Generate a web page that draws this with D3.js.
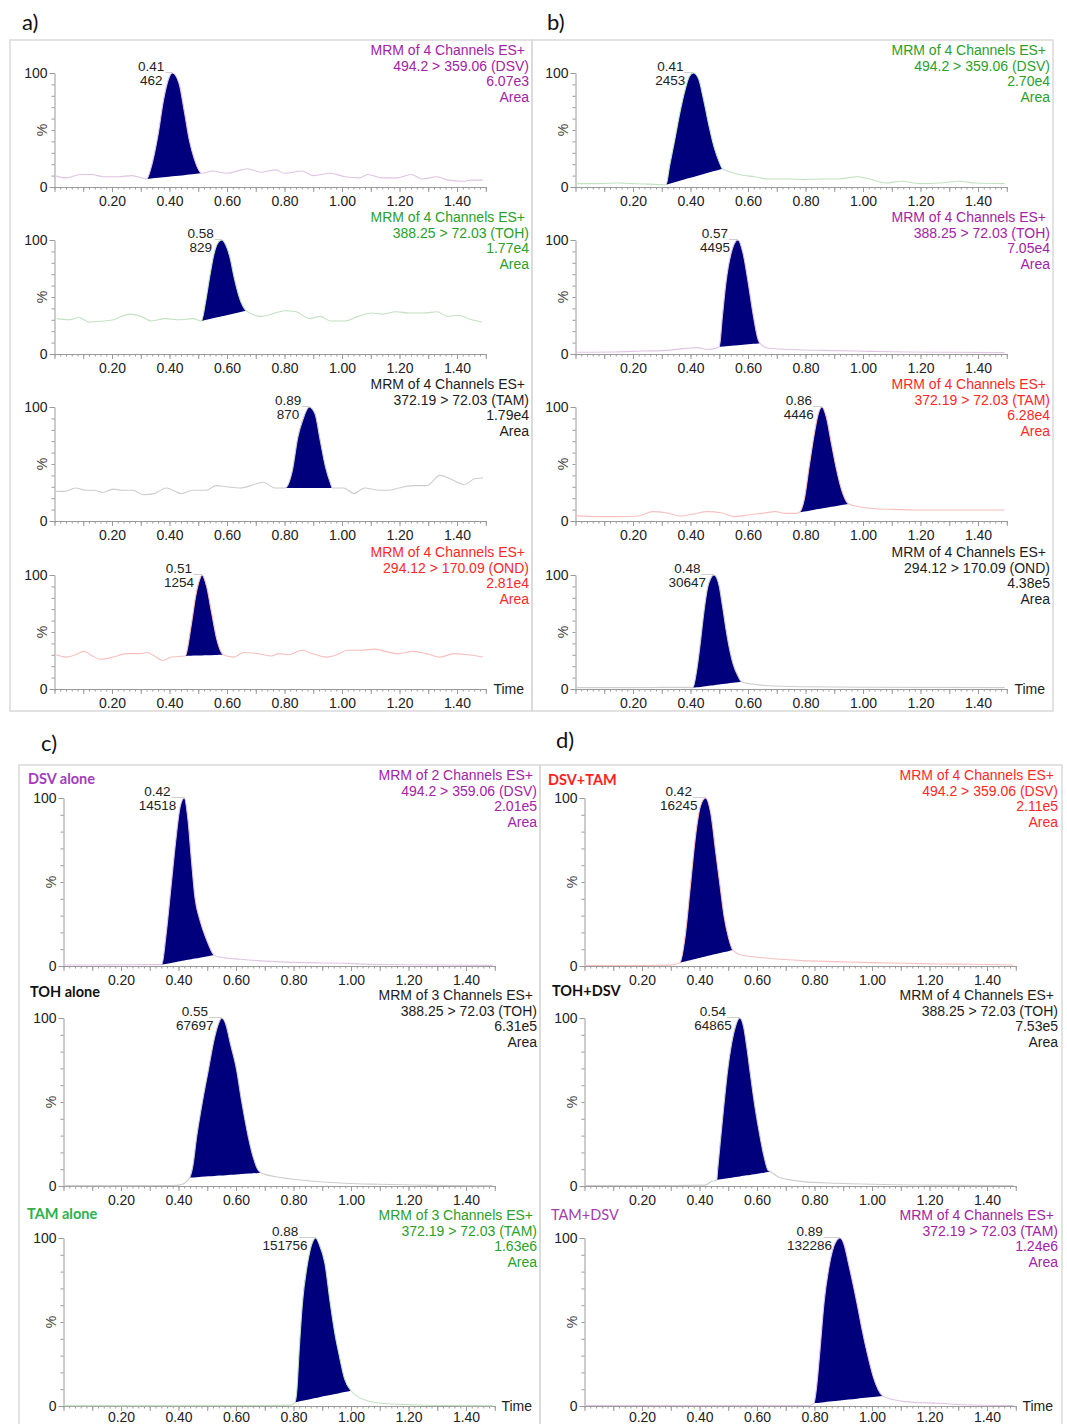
<!DOCTYPE html>
<html><head><meta charset="utf-8">
<script src="https://cdn.jsdelivr.net/npm/d3@7/dist/d3.min.js"></script>
<style>body{margin:0;background:#fff}svg{display:block}</style>
</head><body>
<svg id="chart" width="1067" height="1424"></svg>
<script>
// ===== DATA (time in min, intensity in % of peak) =====
const timeTickLabels = [0.20, 0.40, 0.60, 0.80, 1.00, 1.20, 1.40];

const a1DSV = [[0,10],[0.04,8],[0.09,11],[0.13,11],[0.17,9],[0.22,9],[0.27,10],[0.32,7],[0.337,18],[0.361,47],[0.379,76],[0.397,95],[0.41,100],[0.433,91],[0.451,67],[0.469,41],[0.487,24],[0.512,12],[0.55,14],[0.6,12],[0.65,15],[0.67,16],[0.72,13],[0.77,15],[0.8,12],[0.86,14],[0.9,10],[0.96,12],[1.01,9],[1.06,8],[1.09,11],[1.14,8],[1.19,8],[1.24,11],[1.28,7],[1.33,9],[1.37,6],[1.42,5],[1.45,6],[1.49,6]];
const a2TOH = [[0.008,31],[0.05,30],[0.085,32],[0.121,28],[0.169,29],[0.205,30],[0.259,35],[0.301,33],[0.337,29],[0.385,31],[0.433,30],[0.481,31],[0.511,29],[0.525,45],[0.54,68],[0.555,88],[0.57,98],[0.582,100],[0.595,96],[0.61,85],[0.625,67],[0.64,52],[0.655,42],[0.666,38],[0.72,33],[0.768,36],[0.804,38],[0.84,37],[0.888,31],[0.924,33],[0.96,29],[1.008,29],[1.056,33],[1.104,36],[1.14,35],[1.187,37],[1.235,36],[1.283,36],[1.331,37],[1.367,33],[1.403,34],[1.451,30],[1.487,28]];
const a3TAM = [[0.006,26],[0.036,26],[0.072,29],[0.108,27],[0.138,27],[0.168,25],[0.204,28],[0.234,27],[0.27,27],[0.311,23],[0.347,24],[0.389,29],[0.443,24],[0.479,27],[0.527,27],[0.563,31],[0.599,30],[0.647,29],[0.695,32],[0.725,34],[0.767,29],[0.802,29],[0.828,45],[0.846,73],[0.864,89],[0.886,100],[0.906,94],[0.924,71],[0.942,48],[0.96,33],[0.966,29],[1.006,29],[1.042,24],[1.078,29],[1.126,27],[1.162,27],[1.198,29],[1.246,31],[1.294,31],[1.341,40],[1.377,37],[1.425,32],[1.461,37],[1.491,38]];
const a4OND = [[0.006,30],[0.042,28],[0.072,30],[0.102,33],[0.132,29],[0.162,26],[0.204,28],[0.252,31],[0.299,31],[0.323,32],[0.341,30],[0.377,25],[0.407,28],[0.455,29],[0.475,55],[0.493,84],[0.505,96],[0.513,100],[0.529,90],[0.547,66],[0.565,43],[0.583,31],[0.588,30],[0.623,28],[0.659,32],[0.707,31],[0.755,29],[0.779,31],[0.814,30],[0.862,34],[0.898,31],[0.946,28],[0.982,30],[1.018,34],[1.066,34],[1.114,35],[1.15,33],[1.198,31],[1.246,33],[1.294,31],[1.341,28],[1.389,31],[1.437,30],[1.491,28]];

const b1DSV = [[0.002,3],[0.077,3],[0.149,3.5],[0.196,3],[0.256,2.5],[0.315,2],[0.327,18],[0.345,41],[0.363,65],[0.381,85],[0.396,97],[0.41,100],[0.428,95],[0.446,76],[0.464,54],[0.482,35],[0.5,22],[0.511,16],[0.529,14],[0.577,10.5],[0.624,9],[0.672,7],[0.743,7],[0.791,6.5],[0.862,7],[0.91,7],[0.958,8.5],[0.981,9],[1.017,7.5],[1.077,3.5],[1.136,5],[1.195,3],[1.267,3.5],[1.338,5],[1.386,3.5],[1.493,3]];
const b2TOH = [[0.002,1.5],[0.137,1.8],[0.232,2.6],[0.315,3.2],[0.375,4.7],[0.422,5.6],[0.458,4],[0.482,4.7],[0.5,6.4],[0.511,33],[0.523,62],[0.541,88],[0.565,100],[0.583,88],[0.601,62],[0.619,33],[0.636,12],[0.642,9.4],[0.672,5],[0.743,4],[0.791,3.5],[0.91,3],[1.03,2.3],[1.15,1.8],[1.3,1.5],[1.493,1.2]];
const b3TAM = [[0.002,4.7],[0.077,3.8],[0.149,3.8],[0.22,4.4],[0.268,8.2],[0.315,7.3],[0.363,4.4],[0.41,6.1],[0.458,8.2],[0.506,7.3],[0.553,3.8],[0.601,5.3],[0.648,6.7],[0.696,8.2],[0.732,6.7],[0.767,6.7],[0.779,7.6],[0.795,18],[0.813,48],[0.831,77],[0.845,94.5],[0.857,100],[0.872,91.5],[0.89,68],[0.908,45],[0.926,27],[0.95,15],[0.985,12.5],[1.034,11],[1.1,10.2],[1.21,9.6],[1.33,9.6],[1.493,9.6]];
const b4OND = [[0.002,1.2],[0.196,1.2],[0.315,1.4],[0.395,1.4],[0.408,1],[0.422,17],[0.434,40],[0.446,66],[0.458,87],[0.47,97],[0.482,100],[0.5,90],[0.511,73],[0.529,44],[0.547,23],[0.565,11.4],[0.577,6.4],[0.613,4.4],[0.672,2.9],[0.791,2],[1.03,1.5],[1.493,1.2]];

const c1DSV = [[0.002,0.6],[0.1,0.6],[0.2,0.7],[0.3,0.8],[0.342,0.8],[0.356,17.5],[0.374,47],[0.392,77],[0.406,95],[0.42,100],[0.433,87],[0.445,63],[0.457,41],[0.475,27],[0.498,15.5],[0.524,6.5],[0.546,5.2],[0.617,4],[0.736,2.6],[0.854,2],[0.973,1.6],[1.092,0.9],[1.3,0.6],[1.493,0.4]];
const c2TOH = [[0.002,0.2],[0.2,0.2],[0.38,0.3],[0.4,0.5],[0.42,1.5],[0.439,5],[0.45,12],[0.463,29],[0.48,47],[0.505,70],[0.525,88],[0.54,97],[0.55,100],[0.565,96],[0.58,85],[0.601,70],[0.62,50],[0.643,29],[0.66,17],[0.677,9.5],[0.687,7.9],[0.739,5.5],[0.8,4],[0.86,3],[0.92,2.2],[0.98,1.6],[1.1,1],[1.22,0.6],[1.35,0.3],[1.493,0.2]];
const c3TAM = [[0.002,0.2],[0.4,0.2],[0.7,0.3],[0.79,0.5],[0.805,2.2],[0.812,10],[0.819,31],[0.831,61],[0.849,85],[0.865,97],[0.877,100],[0.89,96],[0.909,85],[0.928,61],[0.945,42],[0.958,31],[0.978,16],[1.0,9.1],[1.02,6],[1.048,3.6],[1.108,1.6],[1.23,0.6],[1.35,0.3],[1.493,0.2]];

const d1DSV = [[0.002,0.3],[0.2,0.3],[0.3,0.5],[0.332,2],[0.35,17.5],[0.368,47],[0.386,77],[0.403,95],[0.421,100],[0.439,91],[0.457,67],[0.472,47],[0.486,29],[0.5,17.5],[0.516,9.5],[0.546,6.5],[0.64,4.6],[0.76,3.2],[0.878,2.6],[0.997,2],[1.115,1.6],[1.23,1.2],[1.35,1],[1.493,0.6]];
const d2TOH = [[0.002,0.3],[0.3,0.3],[0.42,0.5],[0.44,2.6],[0.46,3.6],[0.463,9.5],[0.474,29],[0.486,50],[0.498,69],[0.512,85],[0.527,96],[0.54,100],[0.553,95],[0.565,82],[0.575,69],[0.592,48],[0.611,29],[0.625,17],[0.638,9.5],[0.647,8.5],[0.676,5.2],[0.72,3.5],[0.76,2.6],[0.878,1.6],[1.0,1],[1.23,0.5],[1.493,0.3]];
const d3TAM = [[0.002,0.3],[0.5,0.3],[0.78,0.3],[0.798,1.6],[0.805,8],[0.818,31],[0.833,61],[0.853,85],[0.872,97],[0.889,100],[0.903,96],[0.918,85],[0.948,61],[0.966,45],[0.984,31],[1.005,17],[1.037,6],[1.068,4],[1.115,2.6],[1.234,1.6],[1.35,0.6],[1.493,0.3]];

const traceIds      = ["a1","a2","a3","a4","b1","b2","b3","b4","c1","c2","c3","d1","d2","d3"];
const traceData     = [a1DSV,a2TOH,a3TAM,a4OND,b1DSV,b2TOH,b3TAM,b4OND,c1DSV,c2TOH,c3TAM,d1DSV,d2TOH,d3TAM];
const channelText   = ["MRM of 4 Channels ES+","MRM of 4 Channels ES+","MRM of 4 Channels ES+","MRM of 4 Channels ES+",
                       "MRM of 4 Channels ES+","MRM of 4 Channels ES+","MRM of 4 Channels ES+","MRM of 4 Channels ES+",
                       "MRM of 2 Channels ES+","MRM of 3 Channels ES+","MRM of 3 Channels ES+",
                       "MRM of 4 Channels ES+","MRM of 4 Channels ES+","MRM of 4 Channels ES+"];
const transitionText= ["494.2 > 359.06 (DSV)","388.25 > 72.03 (TOH)","372.19 > 72.03 (TAM)","294.12 > 170.09 (OND)",
                       "494.2 > 359.06 (DSV)","388.25 > 72.03 (TOH)","372.19 > 72.03 (TAM)","294.12 > 170.09 (OND)",
                       "494.2 > 359.06 (DSV)","388.25 > 72.03 (TOH)","372.19 > 72.03 (TAM)",
                       "494.2 > 359.06 (DSV)","388.25 > 72.03 (TOH)","372.19 > 72.03 (TAM)"];
const areaText      = ["6.07e3","1.77e4","1.79e4","2.81e4","2.70e4","7.05e4","6.28e4","4.38e5","2.01e5","6.31e5","1.63e6","2.11e5","7.53e5","1.24e6"];
const peakRTText    = ["0.41","0.58","0.89","0.51","0.41","0.57","0.86","0.48","0.42","0.55","0.88","0.42","0.54","0.89"];
const peakHeightText= ["462","829","870","1254","2453","4495","4446","30647","14518","67697","151756","16245","64865","132286"];
const peakStart     = [0.32,0.511,0.802,0.455,0.315,0.5,0.779,0.408,0.342,0.439,0.805,0.332,0.46,0.798];
const peakEnd       = [0.512,0.666,0.966,0.588,0.511,0.642,0.95,0.577,0.524,0.687,1.0,0.516,0.647,1.037];
const colorKey      = ["P","G","K","R","G","P","R","K","P","K","G","R","K","P"];
const sampleTags    = ["","","","","","","","","DSV alone","TOH alone","TAM alone","DSV+TAM","TOH+DSV","TAM+DSV"];
const sampleTagColor= ["","","","","","","","","#a23dbb","#111111","#2bb24c","#ff1e1e","#111111","#a23db0"];
const sampleTagBold = [0,0,0,0,0,0,0,0,1,1,1,1,1,0];
const panelLetters  = ["a)","b)","c)","d)"];

// ===== LAYOUT / STYLE =====
const PX_PER_MIN = 287.5;
const panels = {
  a:{axisX:54.5, tops:[73,240,407,575], h:114, right:529, frame:[10,40,532,711], letter:[22,30]},
  b:{axisX:575.5,tops:[73,240,407,575], h:114, right:1050,frame:[532,40,1053,711], letter:[547,30]},
  c:{axisX:63.5, tops:[798,1018,1238], h:168, right:537, frame:[19,765,540,1440], letter:[41,751]},
  d:{axisX:584.5,tops:[798,1018,1238], h:168, right:1058,frame:[540,765,1062,1440], letter:[556,748]}
};
const tagOffsets = {c:[[28,-14],[30,-21],[27,-19]], d:[[548,-13],[552,-22],[551,-18]]};
const textColors = {P:"#a323a6", G:"#2a9f2a", R:"#ff2828", K:"#1c1c1c"};
const lineColors = {P:"#e0c4e4", G:"#c2e2c2", R:"#f6c0c0", K:"#cdcdcd"};
const FILL = "#00007d";
const FONT = "'Liberation Sans', Arial, sans-serif";
const AXIS_COLOR = "#9a9a9a";
const PAGE_H = 1424;

const svg = d3.select("#chart");
svg.append("rect").attr("width",1067).attr("height",PAGE_H).attr("fill","#fff");

// frames and panel letters
Object.keys(panels).forEach((k,i)=>{
  const p = panels[k], f = p.frame;
  svg.append("rect").attr("x",f[0]).attr("y",f[1]).attr("width",f[2]-f[0]).attr("height",f[3]-f[1])
     .attr("fill","none").attr("stroke","#d9d9d9").attr("stroke-width",1.5);
  svg.append("text").attr("x",p.letter[0]).attr("y",p.letter[1]).text(panelLetters[i])
     .attr("font-family","Lato, 'Open Sans', sans-serif").attr("font-size",22).attr("fill","#111");
});

const minorX = d3.range(0,76).map(k=>k*0.02);
const majorX = d3.range(0,16).map(k=>k*0.1);
const minorY = d3.range(0,11).map(k=>k*10);

traceIds.forEach((id,i)=>{
  const pk = id[0], row = +id[1]-1, p = panels[pk];
  const data = traceData[i];
  const top = p.tops[row], y0 = top + p.h;
  const x = d3.scaleLinear().domain([0,1.5]).range([p.axisX, p.axisX + 1.5*PX_PER_MIN]);
  const y = d3.scaleLinear().domain([0,100]).range([y0, top]);
  const g = svg.append("g");

  // x axis: minor, major, labels
  const styleAxis = sel => { sel.selectAll("line,path").attr("stroke",AXIS_COLOR); };
  g.append("g").attr("transform",`translate(0,${y0})`)
    .call(d3.axisBottom(x).tickValues(minorX).tickSize(2.5).tickSizeOuter(0).tickFormat(""))
    .call(styleAxis);
  g.append("g").attr("transform",`translate(0,${y0})`)
    .call(d3.axisBottom(x).tickValues(majorX).tickSize(5).tickSizeOuter(0).tickFormat(""))
    .call(styleAxis).call(s=>s.select(".domain").remove());
  const pad = Math.min(9, PAGE_H - 2 - y0 - 10);
  const xl = g.append("g").attr("transform",`translate(0,${y0})`)
    .call(d3.axisBottom(x).tickValues(timeTickLabels).tickSize(0).tickPadding(pad).tickFormat(d3.format(".2f")));
  xl.select(".domain").remove();
  xl.attr("font-family",FONT).attr("font-size",14);
  xl.selectAll("text").attr("fill","#222");

  // y axis
  g.append("g").attr("transform",`translate(${p.axisX},0)`)
    .call(d3.axisLeft(y).tickValues(minorY).tickSize(3).tickSizeOuter(0).tickFormat(""))
    .call(styleAxis);
  const yl = g.append("g").attr("transform",`translate(${p.axisX},0)`)
    .call(d3.axisLeft(y).tickValues([0,100]).tickSize(5).tickPadding(2).tickFormat(d3.format("d")))
    .call(styleAxis);
  yl.select(".domain").remove();
  yl.attr("font-family",FONT).attr("font-size",14);
  yl.selectAll("text").attr("fill","#222");

  // % label
  g.append("text").attr("transform",`translate(${p.axisX-12.5},${top+p.h/2}) rotate(-90)`)
    .attr("text-anchor","middle").attr("dy","0.35em").attr("font-family",FONT).attr("font-size",14)
    .attr("fill","#444").text("%");

  // peak fill (area between trace and straight integration baseline), clipped to window
  const s = peakStart[i], e = peakEnd[i];
  const ys = data.find(d=>Math.abs(d[0]-s)<1e-9)[1];
  const ye = data.find(d=>Math.abs(d[0]-e)<1e-9)[1];
  const base = t => ys + (t - s)/(e - s)*(ye - ys);
  const clipId = "clip-"+id;
  svg.append("clipPath").attr("id",clipId).append("rect")
    .attr("x",x(s)).attr("y",top-5).attr("width",x(e)-x(s)).attr("height",p.h+10);
  g.append("path").datum(data).attr("clip-path",`url(#${clipId})`)
    .attr("d", d3.area().x(d=>x(d[0])).y0(d=>y(base(d[0]))).y1(d=>y(d[1])).curve(d3.curveMonotoneX))
    .attr("fill",FILL);

  // trace
  g.append("path").datum(data)
    .attr("d", d3.line().x(d=>x(d[0])).y(d=>y(d[1])).curve(d3.curveMonotoneX))
    .attr("fill","none").attr("stroke",lineColors[colorKey[i]]).attr("stroke-width",1.1);

  // peak labels
  const apex = data.reduce((m,d)=>d[1]>m[1]?d:m, data[0]);
  const ax = x(apex[0]);
  const t1 = g.append("text").attr("y",top-2).attr("text-anchor","middle").attr("font-family",FONT)
    .attr("font-size",13.5).attr("fill","#222").text(peakRTText[i]);
  const t2 = g.append("text").attr("y",top+12).attr("text-anchor","middle").attr("font-family",FONT)
    .attr("font-size",13.5).attr("fill","#222").text(peakHeightText[i]);
  const w1 = t1.node().getComputedTextLength(), w2 = t2.node().getComputedTextLength();
  const cx = ax - Math.max(w1,w2)/2 - 8;
  t1.attr("x",cx); t2.attr("x",cx);
  g.append("line").attr("x1",cx+w1/2+1).attr("x2",ax).attr("y1",top-0.5).attr("y2",top-0.5)
    .attr("stroke","#cfcfcf").attr("stroke-width",1);

  // header (right aligned)
  const hdr = [channelText[i], transitionText[i], areaText[i], "Area"];
  hdr.forEach((tx,k)=>{
    g.append("text").attr("x", p.right - (k===0?4:0)).attr("y", top-18+k*15.5)
      .attr("text-anchor","end").attr("font-family",FONT).attr("font-size",14)
      .attr("fill",textColors[colorKey[i]]).text(tx);
  });

  // sample tag
  if (sampleTags[i]) {
    const o = tagOffsets[pk][row];
    g.append("text").attr("x",o[0]).attr("y",top+o[1]).text(sampleTags[i])
      .attr("font-family","Lato, 'Open Sans', sans-serif").attr("font-size",14.5)
      .attr("font-weight",sampleTagBold[i]?"bold":"normal").attr("fill",sampleTagColor[i]);
  }

  // "Time" on last row
  if (row === p.tops.length-1) {
    g.append("text").attr("x",p.right-5).attr("y",y0+5).attr("text-anchor","end")
      .attr("font-family",FONT).attr("font-size",14).attr("fill","#222").text("Time");
  }
});
</script>
</body></html>
